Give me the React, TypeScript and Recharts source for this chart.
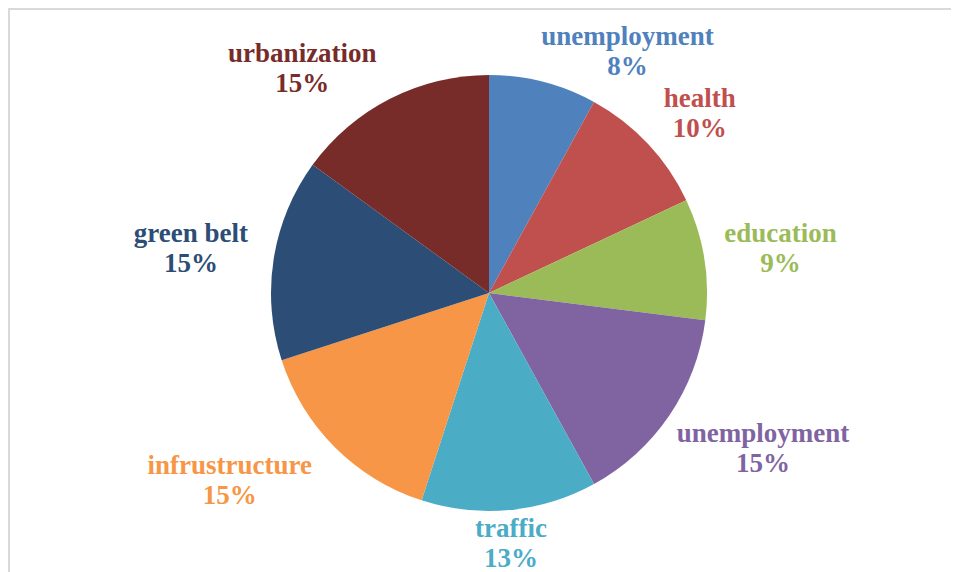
import React from 'react';
import { PieChart, Pie, Cell } from 'recharts';

const categories = ['unemployment', 'health', 'education', 'unemployment', 'traffic', 'infrustructure', 'green belt', 'urbanization'];
const shares = [8, 10, 9, 15, 13, 15, 15, 15];
const colors = ['#4F81BD', '#C0504D', '#9BBB59', '#8064A2', '#4BACC6', '#F79646', '#2C4D75', '#772C2A'];

const data = categories.map((name, i) => ({ name, value: shares[i] }));

const RADIAN = Math.PI / 180;
const FONT = "'Liberation Serif', 'Times New Roman', serif";

const clamp = (v: number) => Math.max(-1, Math.min(1, v));

// two-line label (name + percent) outside the slice, Excel style
function Label(props: any) {
  const { cx, cy, midAngle, outerRadius, percent, name, index } = props;
  const cosA = Math.cos(-midAngle * RADIAN);
  const sinA = Math.sin(-midAngle * RADIAN);
  const px = cx + (outerRadius + 16) * cosA;
  // approximate width of the name in bold Times at 27px
  const w = name.length * 13.4;
  let xc = px;
  if (cosA > 0.2) xc = px + w / 2;
  else if (cosA < -0.2) xc = px - w / 2;
  // block centre: edge of pie plus half the label height
  const yc = cy + (outerRadius + 2) * sinA + 30 * clamp(2.5 * sinA);
  return (
    <text
      x={xc}
      y={yc}
      textAnchor="middle"
      fill={colors[index]}
      fontFamily={FONT}
      fontWeight="bold"
      fontSize={27}
    >
      <tspan x={xc} dy={-5}>{name}</tspan>
      <tspan x={xc} dy={30}>{`${Math.round(percent * 100)}%`}</tspan>
    </text>
  );
}

export default function App() {
  return (
    <div
      style={{
        width: 949,
        height: 562,
        borderTop: '2px solid #d9d9d9',
        borderLeft: '2px solid #d9d9d9',
        background: '#fff',
        overflow: 'hidden',
      }}
    >
      <PieChart width={949} height={562} margin={{ top: 0, right: 0, bottom: 0, left: 0 }}>
        <Pie
          data={data}
          dataKey="value"
          nameKey="name"
          cx={479}
          cy={283}
          outerRadius={218}
          startAngle={90}
          endAngle={-270}
          stroke="none"
          labelLine={false}
          label={Label}
          isAnimationActive={false}
        >
          {data.map((d, i) => (
            <Cell key={i} fill={colors[i]} />
          ))}
        </Pie>
      </PieChart>
    </div>
  );
}
